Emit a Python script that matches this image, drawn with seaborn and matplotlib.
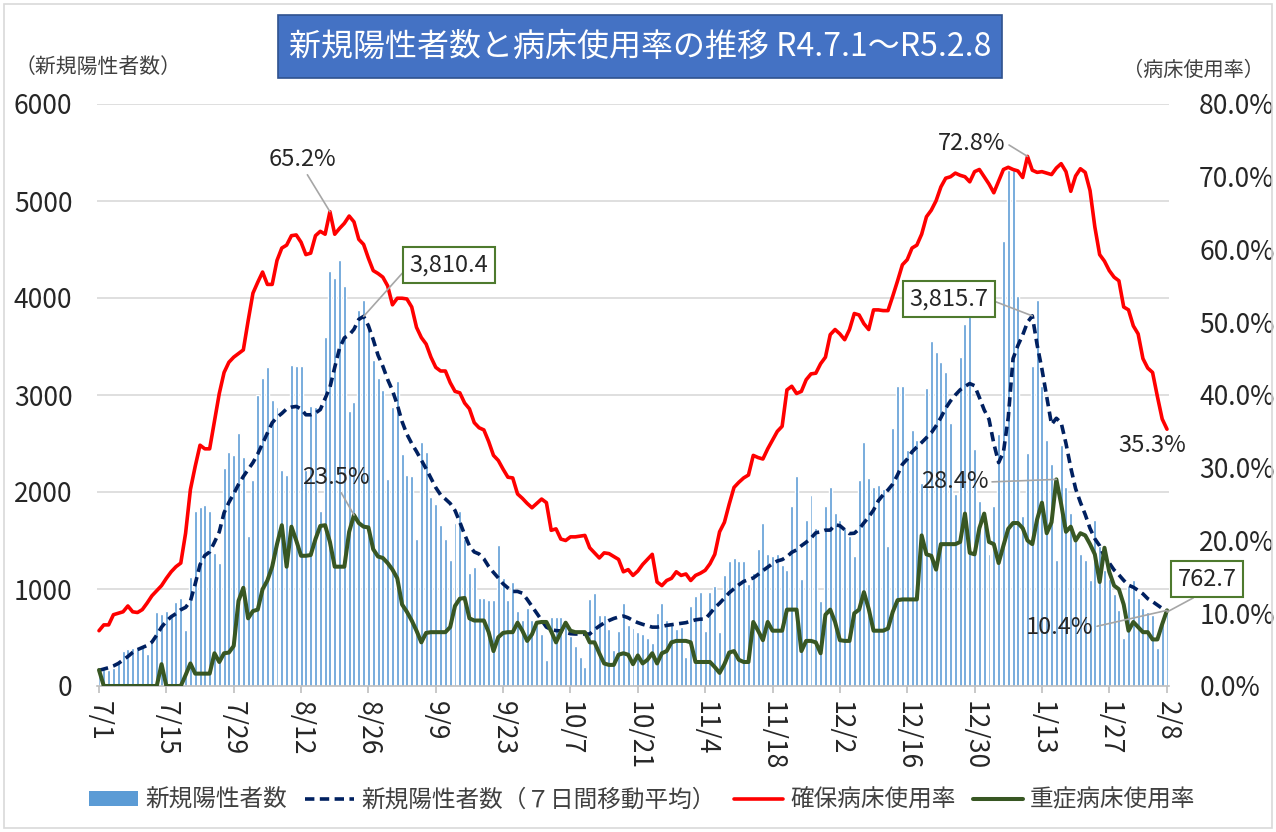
import numpy as np
import pandas as pd
import matplotlib
matplotlib.use("Agg")
import matplotlib.pyplot as plt
import seaborn as sns
from matplotlib.patches import Rectangle, Patch
from matplotlib.lines import Line2D
from matplotlib.ticker import FuncFormatter, MultipleLocator

# ---------------- data (day 0 = 2022-07-01 ... day 222 = 2023-02-08) ----------------
new_cases = [
    200, 180, 170, 190, 250, 360, 385, 390, 400, 410,
    335, 450, 760, 744, 778, 744, 863, 908, 573, 1120,
    1802, 1843, 1870, 1802, 1375, 1273, 2246, 2416, 2382, 2604,
    2365, 1546, 2126, 3000, 3178, 3285, 2950, 2880, 2230, 2180,
    3310, 3300, 3300, 2230, 2890, 2880, 1800, 3600, 4280, 4210,
    4390, 4120, 2840, 2930, 3880, 3980, 3730, 3360, 3180, 3050,
    2130, 2880, 3140, 2390, 2180, 2160, 1520, 2520, 2410, 1950,
    1880, 1660, 1520, 1300, 1680, 1800, 1520, 1160, 1230, 910,
    910, 890, 890, 1450, 1110, 890, 1070, 770, 680, 800,
    680, 625, 540, 270, 714, 714, 714, 625, 518, 411,
    304, 196, 900, 960, 732, 732, 589, 375, 571, 857,
    625, 600, 554, 536, 500, 440, 750, 857, 678, 643,
    589, 607, 304, 821, 928, 964, 571, 964, 1036, 554,
    1143, 1286, 1321, 1286, 1286, 1053, 1161, 1411, 1678, 1357,
    1339, 1357, 1250, 1196, 1857, 2160, 1107, 1714, 1964, 1625,
    875, 1857, 2053, 1786, 1714, 1625, 1550, 1340, 2125, 2518,
    2143, 2053, 2071, 2035, 1446, 2660, 3089, 3089, 2428, 2643,
    2535, 2089, 3071, 3553, 3446, 3339, 3232, 2714, 1982, 3393,
    3732, 3839, 2446, 1911, 1661, 1357, 1857, 2600, 4589, 5321,
    5321, 4018, 1750, 2400, 3300, 3982, 3089, 2535, 2285, 1303,
    2482, 2053, 1786, 1500, 1357, 1303, 1089, 1714, 1446, 1196,
    1107, 946, 786, 500, 1036, 1089, 911, 804, 768, 732,
    393, 696, 768,
]

ma7 = [
    161, 175, 189, 207, 232, 268, 304, 346, 375, 396,
    418, 453, 525, 607, 668, 714, 746, 786, 811, 875,
    1053, 1250, 1346, 1382, 1482, 1589, 1786, 1893, 1982, 2078,
    2160, 2232, 2303, 2393, 2500, 2607, 2714, 2770, 2810, 2857,
    2875, 2882, 2857, 2796, 2796, 2814, 2850, 2964, 3078, 3285,
    3482, 3589, 3618, 3678, 3780, 3810.4, 3714, 3571, 3410, 3296,
    3160, 3046, 2900, 2725, 2596, 2500, 2418, 2328, 2239, 2143,
    2046, 1971, 1928, 1882, 1810, 1689, 1561, 1446, 1382, 1361,
    1311, 1232, 1171, 1114, 1053, 1011, 975, 975, 957, 893,
    821, 750, 678, 607, 582, 571, 568, 554, 539, 536,
    536, 536, 536, 582, 618, 650, 675, 696, 711, 721,
    703, 675, 653, 636, 621, 607, 607, 614, 625, 632,
    639, 646, 653, 668, 682, 689, 689, 746, 807, 853,
    907, 961, 1003, 1043, 1078, 1096, 1114, 1150, 1189, 1225,
    1261, 1289, 1303, 1332, 1378, 1403, 1446, 1482, 1525, 1580,
    1589, 1607, 1607, 1661, 1653, 1611, 1571, 1575, 1618, 1682,
    1743, 1814, 1910, 1971, 2021, 2082, 2178, 2285, 2339, 2414,
    2464, 2510, 2560, 2610, 2682, 2767, 2864, 2939, 3000, 3053,
    3089, 3118, 3096, 2975, 2846, 2750, 2500, 2303, 2410, 2767,
    3375, 3510, 3618, 3750, 3815.7, 3518, 3268, 2982, 2696, 2760,
    2714, 2500, 2250, 2035, 1893, 1768, 1625, 1518, 1446, 1332,
    1268, 1196, 1146, 1089, 1039, 1018, 986, 950, 900, 870,
    835, 800, 762.7,
]

bed_rate = [
    7.6, 8.4, 8.4, 9.8, 10.0, 10.2, 11.0, 10.2, 10.1, 10.5,
    11.4, 12.4, 13.1, 13.8, 14.8, 15.7, 16.4, 16.9, 21.0, 27.0,
    30.2, 33.1, 32.6, 32.6, 36.4, 40.2, 43.1, 44.5, 45.2, 45.7,
    46.2, 50.2, 54.0, 55.5, 56.9, 55.2, 55.2, 58.5, 60.2, 60.6,
    61.9, 62.0, 61.0, 59.3, 59.5, 61.9, 62.5, 62.1, 65.2, 62.1,
    62.9, 63.6, 64.6, 63.8, 61.4, 60.7, 58.8, 57.1, 56.7, 56.2,
    55.0, 52.4, 53.3, 53.3, 53.2, 52.1, 49.3, 47.9, 47.0, 45.2,
    43.8, 43.3, 43.3, 41.7, 40.5, 40.3, 38.9, 38.1, 36.2, 35.5,
    35.2, 33.6, 31.7, 31.0, 29.8, 28.7, 28.6, 26.4, 25.8, 25.1,
    24.5, 25.1, 25.7, 25.2, 21.4, 21.6, 20.2, 20.0, 20.5, 20.5,
    20.6, 20.7, 19.0, 18.3, 17.6, 18.3, 18.2, 17.8, 17.4, 15.7,
    16.0, 15.2, 15.8, 16.7, 17.4, 18.1, 14.3, 13.8, 14.5, 14.8,
    15.7, 15.2, 15.4, 14.5, 15.2, 15.5, 15.9, 16.8, 18.1, 21.2,
    22.5, 25.0, 27.3, 28.0, 28.6, 29.0, 31.7, 31.4, 31.2, 32.6,
    33.8, 35.0, 35.7, 40.7, 41.2, 40.2, 40.5, 42.1, 42.9, 43.0,
    44.3, 45.2, 48.3, 49.0, 48.4, 47.6, 49.0, 51.2, 51.0, 49.8,
    49.0, 51.7, 51.7, 51.6, 51.6, 53.6, 55.7, 57.9, 58.6, 60.2,
    60.6, 62.1, 64.5, 65.4, 66.7, 68.6, 69.8, 70.0, 70.5, 70.2,
    70.0, 69.3, 70.7, 71.0, 70.0, 69.0, 67.8, 69.4, 71.0, 71.3,
    71.0, 70.8, 69.9, 72.8, 70.9, 70.6, 70.7, 70.5, 70.3, 71.2,
    71.8, 70.7, 68.0, 70.1, 71.1, 70.6, 68.1, 63.1, 59.3, 58.4,
    57.1, 56.2, 55.7, 52.1, 51.7, 49.5, 48.4, 45.0, 43.7, 43.1,
    39.8, 36.7, 35.3,
]

severe_rate = [
    2.2, 0, 0, 0, 0, 0, 0, 0, 0, 0,
    0, 0, 0, 3.0, 0, 0, 0, 0, 1.5, 3.1,
    1.7, 1.7, 1.7, 1.7, 4.5, 3.3, 4.5, 4.6, 5.5, 11.7,
    13.5, 9.3, 10.3, 10.5, 13.3, 14.5, 16.4, 19.5, 22.1, 16.4,
    21.9, 20.0, 17.9, 17.9, 18.0, 20.2, 22.0, 22.1, 19.8, 16.4,
    16.4, 16.4, 21.2, 23.5, 22.4, 21.9, 21.8, 18.8, 17.8, 17.6,
    16.9, 16.0, 14.8, 11.2, 10.2, 9.0, 7.6, 6.0, 7.3, 7.4,
    7.4, 7.4, 7.4, 8.1, 11.0, 12.0, 12.1, 9.3, 9.0, 9.0,
    9.0, 7.4, 4.8, 6.7, 7.3, 7.4, 7.4, 8.7, 7.6, 6.2,
    7.1, 8.7, 8.8, 8.8, 7.5, 6.0, 7.4, 8.7, 7.6, 7.4,
    7.4, 7.4, 6.0, 6.0, 4.5, 3.1, 2.9, 2.9, 4.3, 4.5,
    4.3, 3.0, 4.2, 3.1, 3.6, 4.5, 3.1, 4.5, 4.8, 6.0,
    6.2, 6.2, 6.2, 6.0, 3.3, 3.3, 3.3, 3.3, 2.6, 1.8,
    3.0, 4.6, 4.8, 3.6, 3.3, 3.3, 8.8, 7.6, 6.3, 8.8,
    7.6, 7.6, 7.6, 10.5, 10.5, 10.5, 4.8, 6.2, 6.2, 6.0,
    4.5, 9.8, 10.5, 8.8, 6.3, 6.2, 6.2, 10.0, 10.5, 12.9,
    10.6, 7.6, 7.6, 7.6, 7.9, 10.2, 11.8, 11.9, 11.9, 11.9,
    11.9, 20.7, 18.1, 17.9, 16.0, 19.5, 19.5, 19.5, 19.5, 19.8,
    23.7, 18.3, 18.1, 21.7, 23.7, 19.8, 19.5, 16.9, 19.3, 21.6,
    22.4, 22.4, 21.7, 20.0, 19.5, 22.9, 25.2, 21.0, 22.5, 28.4,
    25.0, 21.2, 21.9, 20.0, 21.0, 20.7, 19.5, 18.1, 14.3, 19.0,
    15.7, 13.8, 13.3, 11.2, 7.6, 8.8, 8.1, 7.4, 7.4, 6.4,
    6.4, 8.5, 10.4,
]

days = list(range(len(new_cases)))
tick_days = [0, 14, 28, 42, 56, 70, 84, 98, 112, 126, 140, 154, 168, 182, 196, 210, 222]
tick_labels = ["7/1", "7/15", "7/29", "8/12", "8/26", "9/9", "9/23", "10/7", "10/21",
               "11/4", "11/18", "12/2", "12/16", "12/30", "1/13", "1/27", "2/8"]

series_names = ["新規陽性者数", "新規陽性者数（７日間移動平均）", "確保病床使用率", "重症病床使用率"]
title_text = "新規陽性者数と病床使用率の推移 R4.7.1～R5.2.8"

assert len(ma7) == len(days) and len(bed_rate) == len(days) and len(severe_rate) == len(days)

# ---------------- style ----------------
sns.set_style("white")
plt.rcParams["font.family"] = ["Noto Sans CJK JP", "DejaVu Sans"]

C_BAR = "#5B9BD5"
C_MA = "#002060"
C_RED = "#FF0000"
C_GREEN = "#385723"
C_BOX = "#4E7A2E"
C_TXT = "#262626"
C_LEAD = "#A6A6A6"

W, H = 1276, 832
fig = plt.figure(figsize=(W / 100, H / 100), dpi=100)

x0_pix, x1_pix = 99, 1167     # pixels of day 0 and day 222
ppd = (x1_pix - x0_pix) / 222.0
xlo, xhi = -0.35, 222.35
left_pix = x0_pix + xlo * ppd
right_pix = x0_pix + xhi * ppd
ax = fig.add_axes([left_pix / W, (H - 686) / H, (right_pix - left_pix) / W, (686 - 104) / H])

df = pd.DataFrame({"day": days, "cases": new_cases, "ma": ma7,
                   "bed": bed_rate, "severe": severe_rate})

sns.barplot(data=df, x="day", y="cases", native_scale=True, color=C_BAR,
            saturation=1, width=0.62, errorbar=None, ax=ax, zorder=2)
sns.lineplot(data=df, x="day", y="ma", ax=ax, color=C_MA, lw=2.6,
             estimator=None, zorder=3)
ax.lines[-1].set_dashes([2.6, 1.5])

ax2 = ax.twinx()
sns.lineplot(data=df, x="day", y="bed", ax=ax2, color=C_RED, lw=2.6,
             estimator=None, zorder=3)
sns.lineplot(data=df, x="day", y="severe", ax=ax2, color=C_GREEN, lw=2.9,
             estimator=None, zorder=4)

ax.set_xlim(xlo, xhi)
ax.set_ylim(0, 6000)
ax2.set_ylim(0, 80)
ax.yaxis.set_major_locator(MultipleLocator(1000))
ax2.yaxis.set_major_locator(MultipleLocator(10))
ax2.yaxis.set_major_formatter(FuncFormatter(lambda v, p: f"{v:.1f}%"))
ax.set_xticks(tick_days)
ax.set_xticklabels(tick_labels, rotation=-90, fontsize=19, color=C_TXT)
ax.grid(axis="y", color="#D9D9D9", lw=1.2)
ax.grid(axis="x", visible=False)
ax.set_axisbelow(True)
for a in (ax, ax2):
    a.set_xlabel("")
    a.set_ylabel("")
    for s in a.spines.values():
        s.set_visible(False)
ax.spines["bottom"].set_visible(True)
ax.spines["bottom"].set_color("#BFBFBF")
ax.spines["bottom"].set_linewidth(1.2)
ax.tick_params(axis="x", length=5, width=1.2, color="#BFBFBF", pad=6, bottom=True)
ax.tick_params(axis="y", length=0, pad=18, labelsize=19, labelcolor=C_TXT)
ax2.tick_params(axis="y", length=0, pad=22, labelsize=19, labelcolor=C_TXT)

# ---------------- annotations ----------------
def fig_pix(x, y):
    return (x, H - y)

def note(text, xy, axis, txt_pix, relpos=None, boxed=False):
    kw = dict(xy=xy, xycoords=axis.transData, xytext=fig_pix(*txt_pix),
              textcoords="figure pixels", ha="center", va="center",
              fontsize=17, color=C_TXT, zorder=10, annotation_clip=False)
    if boxed:
        kw["bbox"] = dict(boxstyle="square,pad=0.28", fc="white", ec=C_BOX, lw=1.5)
    if relpos is not None:
        kw["arrowprops"] = dict(arrowstyle="-", color=C_LEAD, lw=1.2,
                                relpos=relpos, shrinkA=0, shrinkB=0)
    ax2.annotate(text, **kw)

i_bed1 = int(np.argmax(bed_rate[:100]))
i_bed2 = 100 + int(np.argmax(bed_rate[100:]))
i_ma1 = int(np.argmax(ma7[:100]))
i_ma2 = 100 + int(np.argmax(ma7[100:]))
i_sv1 = int(np.argmax(severe_rate[:100]))
i_sv2 = 100 + int(np.argmax(severe_rate[100:]))
last = len(days) - 1

note(f"{bed_rate[i_bed1]:.1f}%", (i_bed1, bed_rate[i_bed1]), ax2, (302, 160), relpos=(0.55, 0))
note(f"{ma7[i_ma1]:,.1f}", (i_ma1, ma7[i_ma1]), ax, (449, 265), relpos=(0, 0.5), boxed=True)
note(f"{severe_rate[i_sv1]:.1f}%", (i_sv1, severe_rate[i_sv1]), ax2, (336, 478), relpos=(0.55, 0))
note(f"{bed_rate[i_bed2]:.1f}%", (i_bed2, bed_rate[i_bed2]), ax2, (972, 143), relpos=(1, 0.5))
note(f"{ma7[i_ma2]:,.1f}", (i_ma2, ma7[i_ma2]), ax, (949, 299), relpos=(1, 0.5), boxed=True)
note(f"{bed_rate[last]:.1f}%", (last, bed_rate[last]), ax2, (1152, 445))
note(f"{severe_rate[i_sv2]:.1f}%", (i_sv2, severe_rate[i_sv2]), ax2, (955, 482), relpos=(1, 0.5))
note(f"{ma7[last]:,.1f}", (last, ma7[last]), ax, (1207, 579), relpos=(0.5, 0), boxed=True)
note(f"{severe_rate[last]:.1f}%", (last, severe_rate[last]), ax2, (1060, 627), relpos=(1, 0.5))

# ---------------- title, axis captions, legend, frame ----------------
fig.patches.append(Rectangle((278 / W, 1 - 78 / H), 724 / W, 63 / H, transform=fig.transFigure,
                             fc="#4472C4", ec="#2F528F", lw=1.2, zorder=0))
fig.text(640 / W, 1 - 47 / H, title_text, color="white", fontsize=23,
         ha="center", va="center")
fig.text(15 / W, 1 - 67 / H, "（新規陽性者数）", fontsize=15, color="#404040",
         ha="left", va="center")
fig.text(1264 / W, 1 - 70 / H, "（病床使用率）", fontsize=14.5, color="#404040",
         ha="right", va="center")

handles = [
    Patch(facecolor=C_BAR, edgecolor="none"),
    Line2D([], [], color=C_MA, lw=2.6, linestyle=(0, (2.6, 1.5))),
    Line2D([], [], color=C_RED, lw=2.6),
    Line2D([], [], color=C_GREEN, lw=2.9),
]
leg = fig.legend(handles, series_names, loc="center", bbox_to_anchor=(642 / W, 1 - 800 / H),
                 ncol=4, frameon=False, fontsize=17, handlelength=2.1, handleheight=0.6,
                 handletextpad=0.3, columnspacing=0.75)
for t in leg.get_texts():
    t.set_color("#404040")

fig.patches.append(Rectangle((4 / W, 4 / H), (W - 8) / W, (H - 8) / H, transform=fig.transFigure,
                             fill=False, ec="#D9D9D9", lw=1.2, zorder=0))

fig.savefig("out.png", dpi=100)
